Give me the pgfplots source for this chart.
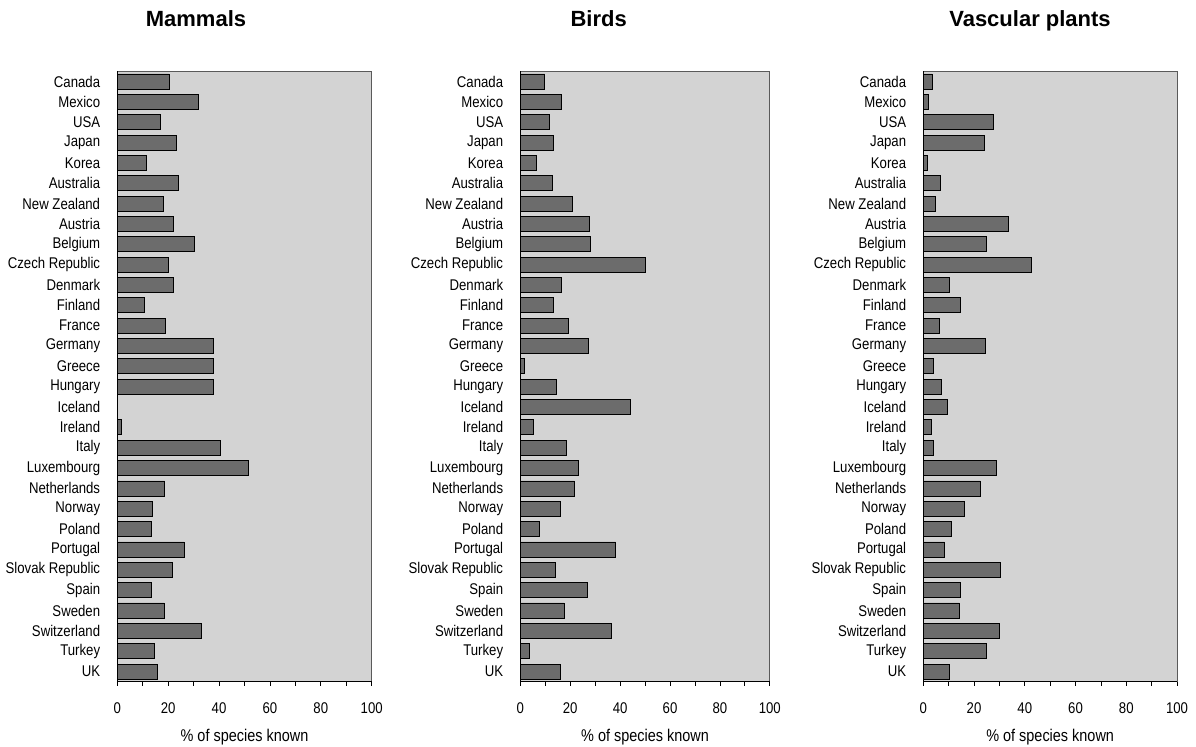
\documentclass[border=0pt]{standalone}
\usepackage{pgfplots}
\pgfplotsset{compat=1.18}
\usepackage{pgfplotstable}
\usepackage{fontspec}
\setmainfont{Liberation Sans}
\newfontfamily\narrowfont{Liberation Sans}[FakeStretch=0.85]
\definecolor{barfill}{RGB}{108,108,108}
\definecolor{bgfill}{RGB}{211,211,211}
\definecolor{framegray}{RGB}{90,90,90}

\pgfplotstableread{
idx mammals birds plants
0 20.3 9.8 3.5
1 32.0 16.3 2.0
2 17.0 11.8 27.6
3 23.3 13.1 24.0
4 11.4 6.4 1.6
5 23.9 13.0 6.8
6 18.1 21.0 4.9
7 22.2 27.8 33.4
8 30.5 28.2 25.0
9 20.2 50.0 42.6
10 22.2 16.4 10.4
11 10.8 13.4 14.6
12 19.0 19.4 6.3
13 37.9 27.4 24.6
14 37.8 1.7 4.1
15 37.8 14.6 7.1
16 nan 44.0 9.6
17 1.8 5.3 3.2
18 40.6 18.4 3.9
19 51.6 23.3 29.0
20 18.6 21.7 22.5
21 13.9 16.2 16.0
22 13.5 7.8 11.0
23 26.2 38.2 8.3
24 21.8 14.2 30.4
25 13.5 27.0 14.7
26 18.4 17.5 14.2
27 33.2 36.4 30.0
28 14.4 3.7 24.8
29 15.9 16.2 10.2
}\datatable

\pgfplotsset{
  panel/.style={
    scale only axis,
    height=610.4bp,
    xbar,
    bar width=15bp,
    xmin=0, xmax=100,
    ymin=-0.5, ymax=29.5,
    y dir=reverse,
    axis x line*=bottom,
    axis y line*=left,
    axis line style={black, line width=1.2bp},
    axis background/.style={fill=bgfill, draw=framegray, line width=0.8bp},
    xtick={0,20,...,100},
    minor xtick={10,30,...,90},
    tick align=outside,
    major tick length=4bp,
    minor tick length=4bp,
    every tick/.style={black, line width=0.8bp},
    ytick={0,...,29},
    ytick style={draw=none},
    yticklabels={Canada,Mexico,USA,Japan,Korea,Australia,New Zealand,Austria,Belgium,Czech Republic,Denmark,Finland,France,Germany,Greece,Hungary,Iceland,Ireland,Italy,Luxembourg,Netherlands,Norway,Poland,Portugal,Slovak Republic,Spain,Sweden,Switzerland,Turkey,UK},
    yticklabel style={font=\narrowfont\fontsize{15.5bp}{17bp}\selectfont, anchor=east, inner sep=0pt, xshift=-13bp},
    xticklabel style={font=\narrowfont\fontsize{15.5bp}{17bp}\selectfont, anchor=center, inner sep=0pt, yshift=-22.3bp},
    /pgf/number format/assume math mode=true,
    xlabel={\% of species known},
    xlabel style={font=\narrowfont\fontsize{17bp}{19bp}\selectfont, at={(axis description cs:0.5,0)}, anchor=center, inner sep=0pt, yshift=-55.3bp},
    clip=false,
  },
  bars/.style={draw=black, fill=barfill, line width=0.8bp},
}

\begin{document}
\begin{tikzpicture}
\path[use as bounding box] (0,0) rectangle (1196bp,747bp);

\begin{axis}[panel, width=254.4bp, at={(117.3bp,65.3bp)}, anchor=south west]
\addplot[bars] table[x=mammals, y=idx] {\datatable};
\end{axis}

\begin{axis}[panel, width=249.5bp, at={(520.3bp,65.3bp)}, anchor=south west]
\addplot[bars] table[x=birds, y=idx] {\datatable};
\end{axis}

\begin{axis}[panel, width=253.7bp, at={(923.3bp,65.3bp)}, anchor=south west]
\addplot[bars] table[x=plants, y=idx] {\datatable};
\end{axis}

\node[font=\bfseries\fontsize{22bp}{24bp}\selectfont, inner sep=0pt, anchor=base] at (196bp,720.5bp) {Mammals};
\node[font=\bfseries\fontsize{22bp}{24bp}\selectfont, inner sep=0pt, anchor=base] at (598.7bp,720.5bp) {Birds};
\node[font=\bfseries\fontsize{22bp}{24bp}\selectfont, inner sep=0pt, anchor=base] at (1030bp,720.5bp) {Vascular plants};
\end{tikzpicture}
\end{document}
